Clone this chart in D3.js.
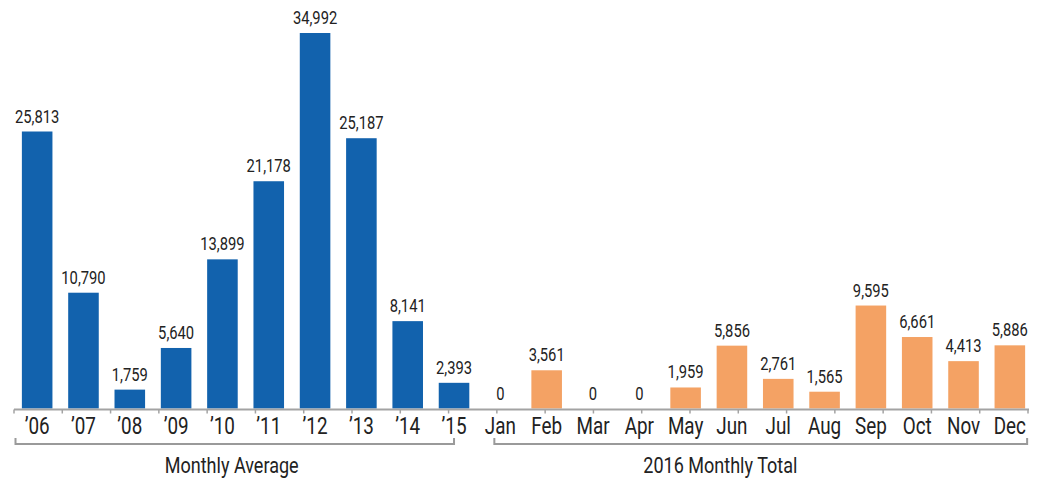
<!DOCTYPE html>
<html>
<head>
<meta charset="utf-8">
<script src="https://cdn.jsdelivr.net/npm/d3@7"></script>
<style>
  body { margin: 0; background: #fff; }
  text { font-family: Roboto, "DejaVu Sans Condensed", sans-serif; font-weight: 400; fill: #222; }
</style>
</head>
<body>
<div id="chart"></div>
<script>
// Data
const yearLabels = ["\u201906", "\u201907", "\u201908", "\u201909", "\u201910", "\u201911", "\u201912", "\u201913", "\u201914", "\u201915"];
const yearValues = [25813, 10790, 1759, 5640, 13899, 21178, 34992, 25187, 8141, 2393];
const monthLabels = ["Jan", "Feb", "Mar", "Apr", "May", "Jun", "Jul", "Aug", "Sep", "Oct", "Nov", "Dec"];
const monthValues = [0, 3561, 0, 0, 1959, 5856, 2761, 1565, 9595, 6661, 4413, 5886];
const groupTitles = ["Monthly Average", "2016 Monthly Total"];

const data = [
  ...yearLabels.map((k, i) => ({ key: k, value: yearValues[i], group: 0 })),
  ...monthLabels.map((k, i) => ({ key: k, value: monthValues[i], group: 1 })),
];

const width = 1039, height = 480;
const colors = ["#1262ad", "#f4a264"];
const squeeze = 0.82; // condensed look for the labels

const svg = d3.select("#chart").append("svg")
  .attr("width", width)
  .attr("height", height);

const x = d3.scaleBand()
  .domain(data.map(d => d.key))
  .range([14, 1033])
  .paddingInner(0.34)
  .paddingOuter(0.17);

const y = d3.scaleLinear()
  .domain([0, d3.max(data, d => d.value)])
  .range([408.5, 33]);

const step = x.step();
const cx = k => x(k) + x.bandwidth() / 2;
const place = (px, py) => `translate(${px},${py}) scale(${squeeze},1)`;

// bars
svg.selectAll(".bar")
  .data(data)
  .enter().append("rect")
  .attr("class", "bar")
  .attr("x", d => x(d.key))
  .attr("y", d => y(d.value))
  .attr("width", x.bandwidth())
  .attr("height", d => y(0) - y(d.value))
  .attr("fill", d => colors[d.group]);

// value labels
svg.selectAll(".val")
  .data(data)
  .enter().append("text")
  .attr("class", "val")
  .attr("transform", d => place(cx(d.key), y(d.value) - 9))
  .attr("text-anchor", "middle")
  .style("font-size", "18px")
  .text(d => d3.format(",")(d.value));

// axis line + ticks
const axisY = 409.5;
const tickPos = d3.scaleLinear().domain([0, data.length - 1]).range([14, 1028]);
svg.append("line")
  .attr("x1", 14).attr("x2", 1029)
  .attr("y1", axisY).attr("y2", axisY)
  .attr("stroke", "#a3a3a3").attr("stroke-width", 2);
svg.selectAll(".tick")
  .data(d3.range(data.length))
  .enter().append("line")
  .attr("x1", i => tickPos(i)).attr("x2", i => tickPos(i))
  .attr("y1", axisY).attr("y2", axisY + 4)
  .attr("stroke", "#a3a3a3").attr("stroke-width", 1.5);

// category labels
svg.selectAll(".cat")
  .data(data)
  .enter().append("text")
  .attr("class", "cat")
  .attr("transform", d => place(cx(d.key), 434))
  .attr("text-anchor", "middle")
  .style("font-size", "23px")
  .text(d => d.key);

// group brackets
const brackets = [
  { x1: 15.5, x2: cx(yearLabels[9]) },
  { x1: cx(monthLabels[0]) - 6, x2: x(monthLabels[11]) + x.bandwidth() + 2 },
];
svg.selectAll(".bracket")
  .data(brackets)
  .enter().append("path")
  .attr("class", "bracket")
  .attr("d", b => `M${b.x1},438 V444 H${b.x2} V438`)
  .attr("fill", "none")
  .attr("stroke", "#9a9a9a")
  .attr("stroke-width", 2);

// group titles
const titlePos = [cx(yearLabels[0]) + 4.2 * step, cx(yearLabels[0]) + 14.75 * step];
svg.selectAll(".grp")
  .data(groupTitles)
  .enter().append("text")
  .attr("class", "grp")
  .attr("transform", (d, i) => place(titlePos[i], 473))
  .attr("text-anchor", "middle")
  .style("font-size", "22px")
  .text(d => d);
</script>
</body>
</html>
